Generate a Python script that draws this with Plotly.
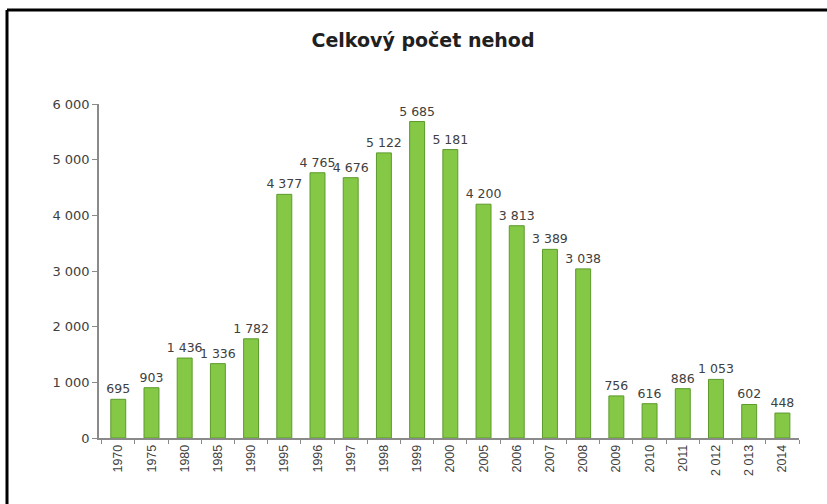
import plotly.graph_objects as go

categories = ["1970", "1975", "1980", "1985", "1990", "1995", "1996", "1997", "1998",
              "1999", "2000", "2005", "2006", "2007", "2008", "2009", "2010", "2011",
              "2 012", "2 013", "2014"]
values = [695, 903, 1436, 1336, 1782, 4377, 4765, 4676, 5122, 5685, 5181, 4200, 3813,
          3389, 3038, 756, 616, 886, 1053, 602, 448]
y_ticks = [0, 1000, 2000, 3000, 4000, 5000, 6000]
y_ticklabels = ["0", "1 000", "2 000", "3 000", "4 000", "5 000", "6 000"]
labels = [f"{v:,}".replace(",", " ") for v in values]

W, H = 827, 504
ml, mr, mt, mb = 99, 28, 104, 66
pw, ph = W - ml - mr, H - mt - mb

WIDE = "DejaVu Sans, Verdana, sans-serif"
NARROW = "Liberation Sans, Arial, sans-serif"

fig = go.Figure()
fig.add_trace(go.Bar(
    x=categories, y=values, text=labels, textposition="outside",
    constraintext="none", cliponaxis=False,
    textfont=dict(family=WIDE, size=12.5, color="#404040"),
    marker=dict(color="#84c845", line=dict(color="#5c9a2c", width=1)),
    width=0.45,
))

# frame (left and top border)
fx = (7 - ml) / pw
fy = 1 + (mt - 10) / ph
fig.add_shape(type="line", xref="paper", yref="paper", x0=fx, x1=fx, y0=fy, y1=-0.5,
              line=dict(color="black", width=3))
fig.add_shape(type="line", xref="paper", yref="paper", x0=fx, x1=1.2, y0=fy, y1=fy,
              line=dict(color="black", width=3))

fig.update_layout(
    width=W, height=H,
    margin=dict(l=ml, r=mr, t=mt, b=mb),
    paper_bgcolor="white", plot_bgcolor="white",
    showlegend=False,
    font=dict(family=NARROW, size=12, color="#404040"),
    title=dict(text="<b>Celkový počet nehod</b>", x=423 / W, xref="container",
               y=1 - 40 / H, yref="container", yanchor="middle", xanchor="center",
               font=dict(family=WIDE, size=19, color="#202020")),
    xaxis=dict(type="category", tickangle=-90, showgrid=False, showline=True,
               range=[-0.58, 20.5],
               linecolor="#8a8a8a", linewidth=1.5, ticks="outside", tickson="boundaries",
               ticklen=4, tickcolor="#8a8a8a",
               tickfont=dict(family=NARROW, size=12.5, color="#404040")),
    yaxis=dict(range=[0, 6000], tickvals=y_ticks, ticktext=y_ticklabels, showgrid=False,
               showline=True, linecolor="#8a8a8a", linewidth=1.5, ticks="outside",
               ticklen=5, tickcolor="#8a8a8a", zeroline=False,
               tickfont=dict(family=WIDE, size=13, color="#404040")),
)

fig.write_html("out.html", config={"displayModeBar": False},
               post_script="document.body.style.margin='0';")
